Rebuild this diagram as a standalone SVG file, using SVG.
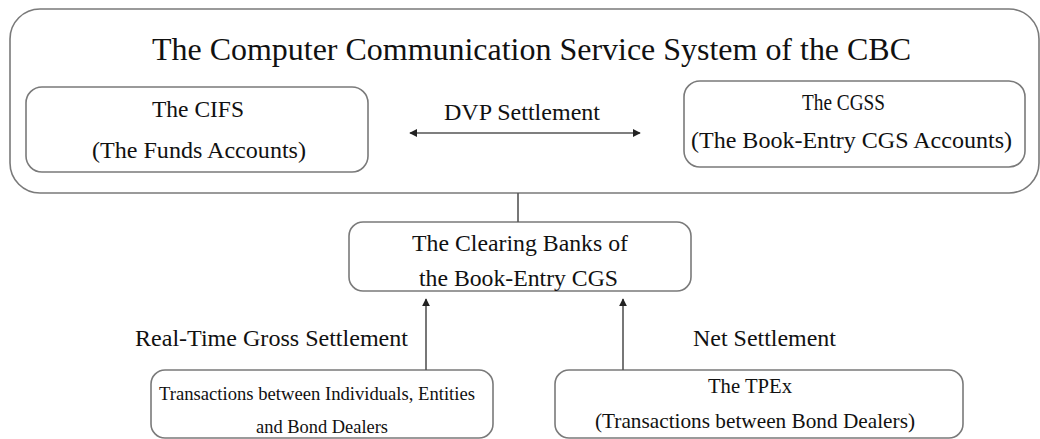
<svg xmlns="http://www.w3.org/2000/svg" width="1040" height="439" viewBox="0 0 1040 439">
<style>
.box{fill:#fff;stroke:#7a7a7a;stroke-width:1.6}
.t{font-family:"Liberation Serif","Times New Roman",serif;fill:#111;text-anchor:start}
.ln{stroke:#555;stroke-width:1.6;fill:none}
</style>
<defs>
<marker id="ah" viewBox="0 0 10 10" refX="9" refY="5" markerWidth="5" markerHeight="5" orient="auto-start-reverse" markerUnits="strokeWidth">
<path d="M0,0 L10,5 L0,10 z" fill="#222"/>
</marker>
</defs>
<rect width="1040" height="439" fill="#fff"/>
<g id="cbc-system">
<rect class="box" x="10" y="9" width="1029" height="184" rx="30"/>
<text class="t" x="152" y="60" font-size="32" textLength="759" lengthAdjust="spacingAndGlyphs">The Computer Communication Service System of the CBC</text>
</g>
<g id="cifs">
<rect class="box" x="26" y="87" width="342" height="85" rx="16"/>
<text class="t" x="152" y="117" font-size="23" textLength="92" lengthAdjust="spacingAndGlyphs">The CIFS</text>
<text class="t" x="92" y="158" font-size="23" textLength="214" lengthAdjust="spacingAndGlyphs">(The Funds Accounts)</text>
</g>
<g id="cgss">
<rect class="box" x="684" y="81" width="341" height="86" rx="16"/>
<text class="t" x="802" y="110" font-size="23" textLength="83" lengthAdjust="spacingAndGlyphs">The CGSS</text>
<text class="t" x="691" y="148" font-size="23" textLength="321" lengthAdjust="spacingAndGlyphs">(The Book-Entry CGS Accounts)</text>
</g>
<g id="clearing-banks">
<rect class="box" x="349" y="222" width="342" height="69" rx="14"/>
<text class="t" x="412" y="251" font-size="24" textLength="216" lengthAdjust="spacingAndGlyphs">The Clearing Banks of</text>
<text class="t" x="419" y="286" font-size="24" textLength="199" lengthAdjust="spacingAndGlyphs">the Book-Entry CGS</text>
</g>
<g id="individuals">
<rect class="box" x="151" y="370" width="342" height="68" rx="14"/>
<text class="t" x="159" y="400" font-size="18" textLength="316" lengthAdjust="spacingAndGlyphs">Transactions between Individuals, Entities</text>
<text class="t" x="256" y="433" font-size="18" textLength="132" lengthAdjust="spacingAndGlyphs">and Bond Dealers</text>
</g>
<g id="tpex">
<rect class="box" x="555" y="370" width="408" height="68" rx="14"/>
<text class="t" x="708" y="393" font-size="22" textLength="84" lengthAdjust="spacingAndGlyphs">The TPEx</text>
<text class="t" x="595" y="428" font-size="22" textLength="320" lengthAdjust="spacingAndGlyphs">(Transactions between Bond Dealers)</text>
</g>
<g id="connectors">
<line class="ln" x1="410" y1="133" x2="640" y2="133" marker-start="url(#ah)" marker-end="url(#ah)"/>
<text class="t" x="444" y="120" font-size="23" textLength="156" lengthAdjust="spacingAndGlyphs">DVP Settlement</text>
<line class="ln" x1="518" y1="193" x2="518" y2="222"/>
<line class="ln" x1="426" y1="370" x2="426" y2="299" marker-end="url(#ah)"/>
<line class="ln" x1="623" y1="370" x2="623" y2="299" marker-end="url(#ah)"/>
<text class="t" x="135" y="346" font-size="23" textLength="273" lengthAdjust="spacingAndGlyphs">Real-Time Gross Settlement</text>
<text class="t" x="693" y="346" font-size="23" textLength="143" lengthAdjust="spacingAndGlyphs">Net Settlement</text>
</g>
</svg>
